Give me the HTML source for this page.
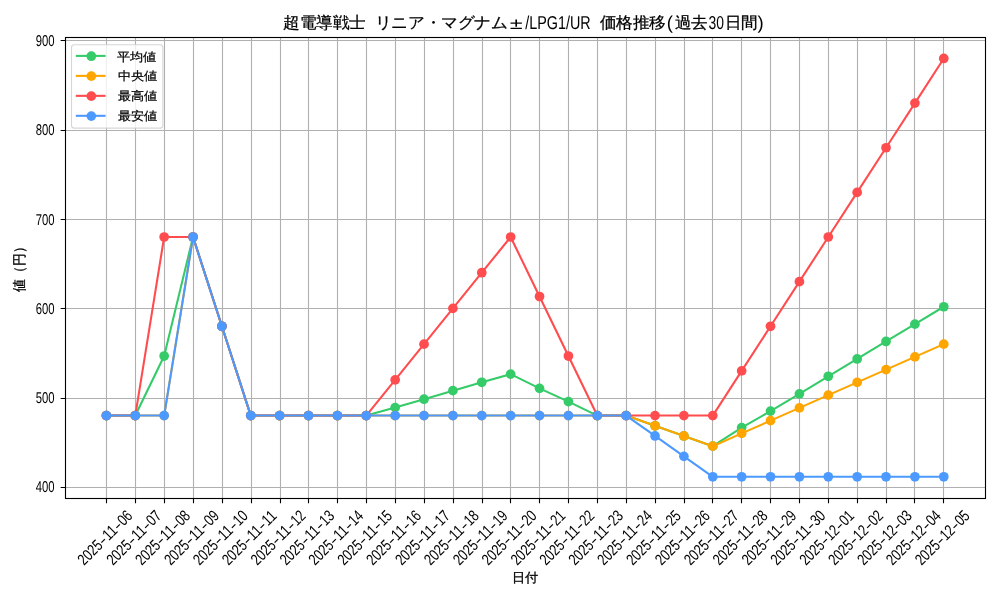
<!DOCTYPE html>
<html><head><meta charset="utf-8"><title>超電導戦士 リニア・マグナム±/LPG1/UR 価格推移</title>
<style>html,body{margin:0;padding:0;background:#fff;width:1000px;height:600px;overflow:hidden}
svg{position:absolute;left:0;top:0;will-change:transform}
text{font-family:"Liberation Sans", sans-serif;fill:#000;text-rendering:geometricPrecision} .b{stroke:#000;stroke-width:0.3px;text-rendering:auto}</style>
</head><body>
<svg width="1000" height="600" viewBox="0 0 1000 600"><rect width="1000" height="600" fill="#fff"/><path d="M106.5 37.5V498.5M135.5 37.5V498.5M164.5 37.5V498.5M193.5 37.5V498.5M222.5 37.5V498.5M251.5 37.5V498.5M280.5 37.5V498.5M308.5 37.5V498.5M337.5 37.5V498.5M366.5 37.5V498.5M395.5 37.5V498.5M424.5 37.5V498.5M453.5 37.5V498.5M482.5 37.5V498.5M510.5 37.5V498.5M539.5 37.5V498.5M568.5 37.5V498.5M597.5 37.5V498.5M626.5 37.5V498.5M655.5 37.5V498.5M684.5 37.5V498.5M712.5 37.5V498.5M741.5 37.5V498.5M770.5 37.5V498.5M799.5 37.5V498.5M828.5 37.5V498.5M857.5 37.5V498.5M886.5 37.5V498.5M914.5 37.5V498.5M943.5 37.5V498.5M65.5 487.5H985.5M65.5 398.5H985.5M65.5 308.5H985.5M65.5 219.5H985.5M65.5 130.5H985.5M65.5 40.5H985.5" stroke="#b0b0b0" stroke-width="1.11" fill="none"/><g fill="#35cb69"><polyline points="106.41,415.57 135.28,415.57 164.16,356.04 193.03,237.01 221.91,326.29 250.78,415.57 279.66,415.57 308.53,415.57 337.41,415.57 366.28,415.57 395.16,407.62 424.03,399.23 452.91,390.66 481.78,382.27 510.66,374.14 539.53,388.34 568.41,401.64 597.28,415.57 626.16,415.57 655.03,425.77 683.91,435.97 712.78,446.18 741.66,427.62 770.53,411.10 799.41,393.87 828.28,376.28 857.16,358.96 886.03,341.47 914.91,324.15 943.78,306.74" fill="none" stroke="#35cb69" stroke-width="2.08" stroke-linejoin="round"/><circle cx="106.41" cy="415.57" r="4.86"/><circle cx="135.28" cy="415.57" r="4.86"/><circle cx="164.16" cy="356.04" r="4.86"/><circle cx="193.03" cy="237.01" r="4.86"/><circle cx="221.91" cy="326.29" r="4.86"/><circle cx="250.78" cy="415.57" r="4.86"/><circle cx="279.66" cy="415.57" r="4.86"/><circle cx="308.53" cy="415.57" r="4.86"/><circle cx="337.41" cy="415.57" r="4.86"/><circle cx="366.28" cy="415.57" r="4.86"/><circle cx="395.16" cy="407.62" r="4.86"/><circle cx="424.03" cy="399.23" r="4.86"/><circle cx="452.91" cy="390.66" r="4.86"/><circle cx="481.78" cy="382.27" r="4.86"/><circle cx="510.66" cy="374.14" r="4.86"/><circle cx="539.53" cy="388.34" r="4.86"/><circle cx="568.41" cy="401.64" r="4.86"/><circle cx="597.28" cy="415.57" r="4.86"/><circle cx="626.16" cy="415.57" r="4.86"/><circle cx="655.03" cy="425.77" r="4.86"/><circle cx="683.91" cy="435.97" r="4.86"/><circle cx="712.78" cy="446.18" r="4.86"/><circle cx="741.66" cy="427.62" r="4.86"/><circle cx="770.53" cy="411.10" r="4.86"/><circle cx="799.41" cy="393.87" r="4.86"/><circle cx="828.28" cy="376.28" r="4.86"/><circle cx="857.16" cy="358.96" r="4.86"/><circle cx="886.03" cy="341.47" r="4.86"/><circle cx="914.91" cy="324.15" r="4.86"/><circle cx="943.78" cy="306.74" r="4.86"/></g><g fill="#ffa500"><polyline points="106.41,415.57 135.28,415.57 164.16,415.57 193.03,237.01 221.91,326.29 250.78,415.57 279.66,415.57 308.53,415.57 337.41,415.57 366.28,415.57 395.16,415.57 424.03,415.57 452.91,415.57 481.78,415.57 510.66,415.57 539.53,415.57 568.41,415.57 597.28,415.57 626.16,415.57 655.03,425.77 683.91,435.97 712.78,446.18 741.66,433.42 770.53,420.67 799.41,407.92 828.28,395.16 857.16,382.41 886.03,369.66 914.91,356.90 943.78,344.15" fill="none" stroke="#ffa500" stroke-width="2.08" stroke-linejoin="round"/><circle cx="106.41" cy="415.57" r="4.86"/><circle cx="135.28" cy="415.57" r="4.86"/><circle cx="164.16" cy="415.57" r="4.86"/><circle cx="193.03" cy="237.01" r="4.86"/><circle cx="221.91" cy="326.29" r="4.86"/><circle cx="250.78" cy="415.57" r="4.86"/><circle cx="279.66" cy="415.57" r="4.86"/><circle cx="308.53" cy="415.57" r="4.86"/><circle cx="337.41" cy="415.57" r="4.86"/><circle cx="366.28" cy="415.57" r="4.86"/><circle cx="395.16" cy="415.57" r="4.86"/><circle cx="424.03" cy="415.57" r="4.86"/><circle cx="452.91" cy="415.57" r="4.86"/><circle cx="481.78" cy="415.57" r="4.86"/><circle cx="510.66" cy="415.57" r="4.86"/><circle cx="539.53" cy="415.57" r="4.86"/><circle cx="568.41" cy="415.57" r="4.86"/><circle cx="597.28" cy="415.57" r="4.86"/><circle cx="626.16" cy="415.57" r="4.86"/><circle cx="655.03" cy="425.77" r="4.86"/><circle cx="683.91" cy="435.97" r="4.86"/><circle cx="712.78" cy="446.18" r="4.86"/><circle cx="741.66" cy="433.42" r="4.86"/><circle cx="770.53" cy="420.67" r="4.86"/><circle cx="799.41" cy="407.92" r="4.86"/><circle cx="828.28" cy="395.16" r="4.86"/><circle cx="857.16" cy="382.41" r="4.86"/><circle cx="886.03" cy="369.66" r="4.86"/><circle cx="914.91" cy="356.90" r="4.86"/><circle cx="943.78" cy="344.15" r="4.86"/></g><g fill="#ff4c4e"><polyline points="106.41,415.57 135.28,415.57 164.16,237.01 193.03,237.01 221.91,326.29 250.78,415.57 279.66,415.57 308.53,415.57 337.41,415.57 366.28,415.57 395.16,379.85 424.03,344.14 452.91,308.43 481.78,272.72 510.66,237.01 539.53,296.53 568.41,356.04 597.28,415.57 626.16,415.57 655.03,415.57 683.91,415.57 712.78,415.57 741.66,370.93 770.53,326.29 799.41,281.65 828.28,237.01 857.16,192.38 886.03,147.74 914.91,103.10 943.78,58.46" fill="none" stroke="#ff4c4e" stroke-width="2.08" stroke-linejoin="round"/><circle cx="106.41" cy="415.57" r="4.86"/><circle cx="135.28" cy="415.57" r="4.86"/><circle cx="164.16" cy="237.01" r="4.86"/><circle cx="193.03" cy="237.01" r="4.86"/><circle cx="221.91" cy="326.29" r="4.86"/><circle cx="250.78" cy="415.57" r="4.86"/><circle cx="279.66" cy="415.57" r="4.86"/><circle cx="308.53" cy="415.57" r="4.86"/><circle cx="337.41" cy="415.57" r="4.86"/><circle cx="366.28" cy="415.57" r="4.86"/><circle cx="395.16" cy="379.85" r="4.86"/><circle cx="424.03" cy="344.14" r="4.86"/><circle cx="452.91" cy="308.43" r="4.86"/><circle cx="481.78" cy="272.72" r="4.86"/><circle cx="510.66" cy="237.01" r="4.86"/><circle cx="539.53" cy="296.53" r="4.86"/><circle cx="568.41" cy="356.04" r="4.86"/><circle cx="597.28" cy="415.57" r="4.86"/><circle cx="626.16" cy="415.57" r="4.86"/><circle cx="655.03" cy="415.57" r="4.86"/><circle cx="683.91" cy="415.57" r="4.86"/><circle cx="712.78" cy="415.57" r="4.86"/><circle cx="741.66" cy="370.93" r="4.86"/><circle cx="770.53" cy="326.29" r="4.86"/><circle cx="799.41" cy="281.65" r="4.86"/><circle cx="828.28" cy="237.01" r="4.86"/><circle cx="857.16" cy="192.38" r="4.86"/><circle cx="886.03" cy="147.74" r="4.86"/><circle cx="914.91" cy="103.10" r="4.86"/><circle cx="943.78" cy="58.46" r="4.86"/></g><g fill="#4c9aff"><polyline points="106.41,415.57 135.28,415.57 164.16,415.57 193.03,237.01 221.91,326.29 250.78,415.57 279.66,415.57 308.53,415.57 337.41,415.57 366.28,415.57 395.16,415.57 424.03,415.57 452.91,415.57 481.78,415.57 510.66,415.57 539.53,415.57 568.41,415.57 597.28,415.57 626.16,415.57 655.03,435.97 683.91,456.37 712.78,476.78 741.66,476.78 770.53,476.78 799.41,476.78 828.28,476.78 857.16,476.78 886.03,476.78 914.91,476.78 943.78,476.78" fill="none" stroke="#4c9aff" stroke-width="2.08" stroke-linejoin="round"/><circle cx="106.41" cy="415.57" r="4.86"/><circle cx="135.28" cy="415.57" r="4.86"/><circle cx="164.16" cy="415.57" r="4.86"/><circle cx="193.03" cy="237.01" r="4.86"/><circle cx="221.91" cy="326.29" r="4.86"/><circle cx="250.78" cy="415.57" r="4.86"/><circle cx="279.66" cy="415.57" r="4.86"/><circle cx="308.53" cy="415.57" r="4.86"/><circle cx="337.41" cy="415.57" r="4.86"/><circle cx="366.28" cy="415.57" r="4.86"/><circle cx="395.16" cy="415.57" r="4.86"/><circle cx="424.03" cy="415.57" r="4.86"/><circle cx="452.91" cy="415.57" r="4.86"/><circle cx="481.78" cy="415.57" r="4.86"/><circle cx="510.66" cy="415.57" r="4.86"/><circle cx="539.53" cy="415.57" r="4.86"/><circle cx="568.41" cy="415.57" r="4.86"/><circle cx="597.28" cy="415.57" r="4.86"/><circle cx="626.16" cy="415.57" r="4.86"/><circle cx="655.03" cy="435.97" r="4.86"/><circle cx="683.91" cy="456.37" r="4.86"/><circle cx="712.78" cy="476.78" r="4.86"/><circle cx="741.66" cy="476.78" r="4.86"/><circle cx="770.53" cy="476.78" r="4.86"/><circle cx="799.41" cy="476.78" r="4.86"/><circle cx="828.28" cy="476.78" r="4.86"/><circle cx="857.16" cy="476.78" r="4.86"/><circle cx="886.03" cy="476.78" r="4.86"/><circle cx="914.91" cy="476.78" r="4.86"/><circle cx="943.78" cy="476.78" r="4.86"/></g><rect x="65.5" y="37.5" width="920.0" height="461.0" fill="none" stroke="#000" stroke-width="1.11"/><path d="M106.5 498.5v4.86M135.5 498.5v4.86M164.5 498.5v4.86M193.5 498.5v4.86M222.5 498.5v4.86M251.5 498.5v4.86M280.5 498.5v4.86M308.5 498.5v4.86M337.5 498.5v4.86M366.5 498.5v4.86M395.5 498.5v4.86M424.5 498.5v4.86M453.5 498.5v4.86M482.5 498.5v4.86M510.5 498.5v4.86M539.5 498.5v4.86M568.5 498.5v4.86M597.5 498.5v4.86M626.5 498.5v4.86M655.5 498.5v4.86M684.5 498.5v4.86M712.5 498.5v4.86M741.5 498.5v4.86M770.5 498.5v4.86M799.5 498.5v4.86M828.5 498.5v4.86M857.5 498.5v4.86M886.5 498.5v4.86M914.5 498.5v4.86M943.5 498.5v4.86M65.5 487.5h-4.86M65.5 398.5h-4.86M65.5 308.5h-4.86M65.5 219.5h-4.86M65.5 130.5h-4.86M65.5 40.5h-4.86" stroke="#000" stroke-width="1.11" fill="none"/><g class="t"><text x="54.6" y="492.39" font-size="15.6" text-anchor="end" textLength="18.8" lengthAdjust="spacingAndGlyphs">400</text><text x="54.6" y="403.11" font-size="15.6" text-anchor="end" textLength="18.8" lengthAdjust="spacingAndGlyphs">500</text><text x="54.6" y="313.83" font-size="15.6" text-anchor="end" textLength="18.8" lengthAdjust="spacingAndGlyphs">600</text><text x="54.6" y="224.56" font-size="15.6" text-anchor="end" textLength="18.8" lengthAdjust="spacingAndGlyphs">700</text><text x="54.6" y="135.28" font-size="15.6" text-anchor="end" textLength="18.8" lengthAdjust="spacingAndGlyphs">800</text><text x="54.6" y="46.01" font-size="15.6" text-anchor="end" textLength="18.8" lengthAdjust="spacingAndGlyphs">900</text><text transform="translate(104.81,537.4) rotate(-45)" y="5.6" font-size="16"><tspan x="-35.00" textLength="27.80" lengthAdjust="spacingAndGlyphs">2025</tspan><tspan x="-7.00" textLength="6.80" lengthAdjust="spacingAndGlyphs">-</tspan><tspan x="0.00" textLength="13.80" lengthAdjust="spacingAndGlyphs">11</tspan><tspan x="14.00" textLength="6.80" lengthAdjust="spacingAndGlyphs">-</tspan><tspan x="21.00" textLength="13.80" lengthAdjust="spacingAndGlyphs">06</tspan></text><text transform="translate(133.69,537.4) rotate(-45)" y="5.6" font-size="16"><tspan x="-35.00" textLength="27.80" lengthAdjust="spacingAndGlyphs">2025</tspan><tspan x="-7.00" textLength="6.80" lengthAdjust="spacingAndGlyphs">-</tspan><tspan x="0.00" textLength="13.80" lengthAdjust="spacingAndGlyphs">11</tspan><tspan x="14.00" textLength="6.80" lengthAdjust="spacingAndGlyphs">-</tspan><tspan x="21.00" textLength="13.80" lengthAdjust="spacingAndGlyphs">07</tspan></text><text transform="translate(162.56,537.4) rotate(-45)" y="5.6" font-size="16"><tspan x="-35.00" textLength="27.80" lengthAdjust="spacingAndGlyphs">2025</tspan><tspan x="-7.00" textLength="6.80" lengthAdjust="spacingAndGlyphs">-</tspan><tspan x="0.00" textLength="13.80" lengthAdjust="spacingAndGlyphs">11</tspan><tspan x="14.00" textLength="6.80" lengthAdjust="spacingAndGlyphs">-</tspan><tspan x="21.00" textLength="13.80" lengthAdjust="spacingAndGlyphs">08</tspan></text><text transform="translate(191.44,537.4) rotate(-45)" y="5.6" font-size="16"><tspan x="-35.00" textLength="27.80" lengthAdjust="spacingAndGlyphs">2025</tspan><tspan x="-7.00" textLength="6.80" lengthAdjust="spacingAndGlyphs">-</tspan><tspan x="0.00" textLength="13.80" lengthAdjust="spacingAndGlyphs">11</tspan><tspan x="14.00" textLength="6.80" lengthAdjust="spacingAndGlyphs">-</tspan><tspan x="21.00" textLength="13.80" lengthAdjust="spacingAndGlyphs">09</tspan></text><text transform="translate(220.31,537.4) rotate(-45)" y="5.6" font-size="16"><tspan x="-35.00" textLength="27.80" lengthAdjust="spacingAndGlyphs">2025</tspan><tspan x="-7.00" textLength="6.80" lengthAdjust="spacingAndGlyphs">-</tspan><tspan x="0.00" textLength="13.80" lengthAdjust="spacingAndGlyphs">11</tspan><tspan x="14.00" textLength="6.80" lengthAdjust="spacingAndGlyphs">-</tspan><tspan x="21.00" textLength="13.80" lengthAdjust="spacingAndGlyphs">10</tspan></text><text transform="translate(249.19,537.4) rotate(-45)" y="5.6" font-size="16"><tspan x="-35.00" textLength="27.80" lengthAdjust="spacingAndGlyphs">2025</tspan><tspan x="-7.00" textLength="6.80" lengthAdjust="spacingAndGlyphs">-</tspan><tspan x="0.00" textLength="13.80" lengthAdjust="spacingAndGlyphs">11</tspan><tspan x="14.00" textLength="6.80" lengthAdjust="spacingAndGlyphs">-</tspan><tspan x="21.00" textLength="13.80" lengthAdjust="spacingAndGlyphs">11</tspan></text><text transform="translate(278.06,537.4) rotate(-45)" y="5.6" font-size="16"><tspan x="-35.00" textLength="27.80" lengthAdjust="spacingAndGlyphs">2025</tspan><tspan x="-7.00" textLength="6.80" lengthAdjust="spacingAndGlyphs">-</tspan><tspan x="0.00" textLength="13.80" lengthAdjust="spacingAndGlyphs">11</tspan><tspan x="14.00" textLength="6.80" lengthAdjust="spacingAndGlyphs">-</tspan><tspan x="21.00" textLength="13.80" lengthAdjust="spacingAndGlyphs">12</tspan></text><text transform="translate(306.93,537.4) rotate(-45)" y="5.6" font-size="16"><tspan x="-35.00" textLength="27.80" lengthAdjust="spacingAndGlyphs">2025</tspan><tspan x="-7.00" textLength="6.80" lengthAdjust="spacingAndGlyphs">-</tspan><tspan x="0.00" textLength="13.80" lengthAdjust="spacingAndGlyphs">11</tspan><tspan x="14.00" textLength="6.80" lengthAdjust="spacingAndGlyphs">-</tspan><tspan x="21.00" textLength="13.80" lengthAdjust="spacingAndGlyphs">13</tspan></text><text transform="translate(335.81,537.4) rotate(-45)" y="5.6" font-size="16"><tspan x="-35.00" textLength="27.80" lengthAdjust="spacingAndGlyphs">2025</tspan><tspan x="-7.00" textLength="6.80" lengthAdjust="spacingAndGlyphs">-</tspan><tspan x="0.00" textLength="13.80" lengthAdjust="spacingAndGlyphs">11</tspan><tspan x="14.00" textLength="6.80" lengthAdjust="spacingAndGlyphs">-</tspan><tspan x="21.00" textLength="13.80" lengthAdjust="spacingAndGlyphs">14</tspan></text><text transform="translate(364.68,537.4) rotate(-45)" y="5.6" font-size="16"><tspan x="-35.00" textLength="27.80" lengthAdjust="spacingAndGlyphs">2025</tspan><tspan x="-7.00" textLength="6.80" lengthAdjust="spacingAndGlyphs">-</tspan><tspan x="0.00" textLength="13.80" lengthAdjust="spacingAndGlyphs">11</tspan><tspan x="14.00" textLength="6.80" lengthAdjust="spacingAndGlyphs">-</tspan><tspan x="21.00" textLength="13.80" lengthAdjust="spacingAndGlyphs">15</tspan></text><text transform="translate(393.56,537.4) rotate(-45)" y="5.6" font-size="16"><tspan x="-35.00" textLength="27.80" lengthAdjust="spacingAndGlyphs">2025</tspan><tspan x="-7.00" textLength="6.80" lengthAdjust="spacingAndGlyphs">-</tspan><tspan x="0.00" textLength="13.80" lengthAdjust="spacingAndGlyphs">11</tspan><tspan x="14.00" textLength="6.80" lengthAdjust="spacingAndGlyphs">-</tspan><tspan x="21.00" textLength="13.80" lengthAdjust="spacingAndGlyphs">16</tspan></text><text transform="translate(422.43,537.4) rotate(-45)" y="5.6" font-size="16"><tspan x="-35.00" textLength="27.80" lengthAdjust="spacingAndGlyphs">2025</tspan><tspan x="-7.00" textLength="6.80" lengthAdjust="spacingAndGlyphs">-</tspan><tspan x="0.00" textLength="13.80" lengthAdjust="spacingAndGlyphs">11</tspan><tspan x="14.00" textLength="6.80" lengthAdjust="spacingAndGlyphs">-</tspan><tspan x="21.00" textLength="13.80" lengthAdjust="spacingAndGlyphs">17</tspan></text><text transform="translate(451.31,537.4) rotate(-45)" y="5.6" font-size="16"><tspan x="-35.00" textLength="27.80" lengthAdjust="spacingAndGlyphs">2025</tspan><tspan x="-7.00" textLength="6.80" lengthAdjust="spacingAndGlyphs">-</tspan><tspan x="0.00" textLength="13.80" lengthAdjust="spacingAndGlyphs">11</tspan><tspan x="14.00" textLength="6.80" lengthAdjust="spacingAndGlyphs">-</tspan><tspan x="21.00" textLength="13.80" lengthAdjust="spacingAndGlyphs">18</tspan></text><text transform="translate(480.18,537.4) rotate(-45)" y="5.6" font-size="16"><tspan x="-35.00" textLength="27.80" lengthAdjust="spacingAndGlyphs">2025</tspan><tspan x="-7.00" textLength="6.80" lengthAdjust="spacingAndGlyphs">-</tspan><tspan x="0.00" textLength="13.80" lengthAdjust="spacingAndGlyphs">11</tspan><tspan x="14.00" textLength="6.80" lengthAdjust="spacingAndGlyphs">-</tspan><tspan x="21.00" textLength="13.80" lengthAdjust="spacingAndGlyphs">19</tspan></text><text transform="translate(509.06,537.4) rotate(-45)" y="5.6" font-size="16"><tspan x="-35.00" textLength="27.80" lengthAdjust="spacingAndGlyphs">2025</tspan><tspan x="-7.00" textLength="6.80" lengthAdjust="spacingAndGlyphs">-</tspan><tspan x="0.00" textLength="13.80" lengthAdjust="spacingAndGlyphs">11</tspan><tspan x="14.00" textLength="6.80" lengthAdjust="spacingAndGlyphs">-</tspan><tspan x="21.00" textLength="13.80" lengthAdjust="spacingAndGlyphs">20</tspan></text><text transform="translate(537.93,537.4) rotate(-45)" y="5.6" font-size="16"><tspan x="-35.00" textLength="27.80" lengthAdjust="spacingAndGlyphs">2025</tspan><tspan x="-7.00" textLength="6.80" lengthAdjust="spacingAndGlyphs">-</tspan><tspan x="0.00" textLength="13.80" lengthAdjust="spacingAndGlyphs">11</tspan><tspan x="14.00" textLength="6.80" lengthAdjust="spacingAndGlyphs">-</tspan><tspan x="21.00" textLength="13.80" lengthAdjust="spacingAndGlyphs">21</tspan></text><text transform="translate(566.81,537.4) rotate(-45)" y="5.6" font-size="16"><tspan x="-35.00" textLength="27.80" lengthAdjust="spacingAndGlyphs">2025</tspan><tspan x="-7.00" textLength="6.80" lengthAdjust="spacingAndGlyphs">-</tspan><tspan x="0.00" textLength="13.80" lengthAdjust="spacingAndGlyphs">11</tspan><tspan x="14.00" textLength="6.80" lengthAdjust="spacingAndGlyphs">-</tspan><tspan x="21.00" textLength="13.80" lengthAdjust="spacingAndGlyphs">22</tspan></text><text transform="translate(595.68,537.4) rotate(-45)" y="5.6" font-size="16"><tspan x="-35.00" textLength="27.80" lengthAdjust="spacingAndGlyphs">2025</tspan><tspan x="-7.00" textLength="6.80" lengthAdjust="spacingAndGlyphs">-</tspan><tspan x="0.00" textLength="13.80" lengthAdjust="spacingAndGlyphs">11</tspan><tspan x="14.00" textLength="6.80" lengthAdjust="spacingAndGlyphs">-</tspan><tspan x="21.00" textLength="13.80" lengthAdjust="spacingAndGlyphs">23</tspan></text><text transform="translate(624.56,537.4) rotate(-45)" y="5.6" font-size="16"><tspan x="-35.00" textLength="27.80" lengthAdjust="spacingAndGlyphs">2025</tspan><tspan x="-7.00" textLength="6.80" lengthAdjust="spacingAndGlyphs">-</tspan><tspan x="0.00" textLength="13.80" lengthAdjust="spacingAndGlyphs">11</tspan><tspan x="14.00" textLength="6.80" lengthAdjust="spacingAndGlyphs">-</tspan><tspan x="21.00" textLength="13.80" lengthAdjust="spacingAndGlyphs">24</tspan></text><text transform="translate(653.43,537.4) rotate(-45)" y="5.6" font-size="16"><tspan x="-35.00" textLength="27.80" lengthAdjust="spacingAndGlyphs">2025</tspan><tspan x="-7.00" textLength="6.80" lengthAdjust="spacingAndGlyphs">-</tspan><tspan x="0.00" textLength="13.80" lengthAdjust="spacingAndGlyphs">11</tspan><tspan x="14.00" textLength="6.80" lengthAdjust="spacingAndGlyphs">-</tspan><tspan x="21.00" textLength="13.80" lengthAdjust="spacingAndGlyphs">25</tspan></text><text transform="translate(682.31,537.4) rotate(-45)" y="5.6" font-size="16"><tspan x="-35.00" textLength="27.80" lengthAdjust="spacingAndGlyphs">2025</tspan><tspan x="-7.00" textLength="6.80" lengthAdjust="spacingAndGlyphs">-</tspan><tspan x="0.00" textLength="13.80" lengthAdjust="spacingAndGlyphs">11</tspan><tspan x="14.00" textLength="6.80" lengthAdjust="spacingAndGlyphs">-</tspan><tspan x="21.00" textLength="13.80" lengthAdjust="spacingAndGlyphs">26</tspan></text><text transform="translate(711.18,537.4) rotate(-45)" y="5.6" font-size="16"><tspan x="-35.00" textLength="27.80" lengthAdjust="spacingAndGlyphs">2025</tspan><tspan x="-7.00" textLength="6.80" lengthAdjust="spacingAndGlyphs">-</tspan><tspan x="0.00" textLength="13.80" lengthAdjust="spacingAndGlyphs">11</tspan><tspan x="14.00" textLength="6.80" lengthAdjust="spacingAndGlyphs">-</tspan><tspan x="21.00" textLength="13.80" lengthAdjust="spacingAndGlyphs">27</tspan></text><text transform="translate(740.06,537.4) rotate(-45)" y="5.6" font-size="16"><tspan x="-35.00" textLength="27.80" lengthAdjust="spacingAndGlyphs">2025</tspan><tspan x="-7.00" textLength="6.80" lengthAdjust="spacingAndGlyphs">-</tspan><tspan x="0.00" textLength="13.80" lengthAdjust="spacingAndGlyphs">11</tspan><tspan x="14.00" textLength="6.80" lengthAdjust="spacingAndGlyphs">-</tspan><tspan x="21.00" textLength="13.80" lengthAdjust="spacingAndGlyphs">28</tspan></text><text transform="translate(768.93,537.4) rotate(-45)" y="5.6" font-size="16"><tspan x="-35.00" textLength="27.80" lengthAdjust="spacingAndGlyphs">2025</tspan><tspan x="-7.00" textLength="6.80" lengthAdjust="spacingAndGlyphs">-</tspan><tspan x="0.00" textLength="13.80" lengthAdjust="spacingAndGlyphs">11</tspan><tspan x="14.00" textLength="6.80" lengthAdjust="spacingAndGlyphs">-</tspan><tspan x="21.00" textLength="13.80" lengthAdjust="spacingAndGlyphs">29</tspan></text><text transform="translate(797.81,537.4) rotate(-45)" y="5.6" font-size="16"><tspan x="-35.00" textLength="27.80" lengthAdjust="spacingAndGlyphs">2025</tspan><tspan x="-7.00" textLength="6.80" lengthAdjust="spacingAndGlyphs">-</tspan><tspan x="0.00" textLength="13.80" lengthAdjust="spacingAndGlyphs">11</tspan><tspan x="14.00" textLength="6.80" lengthAdjust="spacingAndGlyphs">-</tspan><tspan x="21.00" textLength="13.80" lengthAdjust="spacingAndGlyphs">30</tspan></text><text transform="translate(826.68,537.4) rotate(-45)" y="5.6" font-size="16"><tspan x="-35.00" textLength="27.80" lengthAdjust="spacingAndGlyphs">2025</tspan><tspan x="-7.00" textLength="6.80" lengthAdjust="spacingAndGlyphs">-</tspan><tspan x="0.00" textLength="13.80" lengthAdjust="spacingAndGlyphs">12</tspan><tspan x="14.00" textLength="6.80" lengthAdjust="spacingAndGlyphs">-</tspan><tspan x="21.00" textLength="13.80" lengthAdjust="spacingAndGlyphs">01</tspan></text><text transform="translate(855.56,537.4) rotate(-45)" y="5.6" font-size="16"><tspan x="-35.00" textLength="27.80" lengthAdjust="spacingAndGlyphs">2025</tspan><tspan x="-7.00" textLength="6.80" lengthAdjust="spacingAndGlyphs">-</tspan><tspan x="0.00" textLength="13.80" lengthAdjust="spacingAndGlyphs">12</tspan><tspan x="14.00" textLength="6.80" lengthAdjust="spacingAndGlyphs">-</tspan><tspan x="21.00" textLength="13.80" lengthAdjust="spacingAndGlyphs">02</tspan></text><text transform="translate(884.43,537.4) rotate(-45)" y="5.6" font-size="16"><tspan x="-35.00" textLength="27.80" lengthAdjust="spacingAndGlyphs">2025</tspan><tspan x="-7.00" textLength="6.80" lengthAdjust="spacingAndGlyphs">-</tspan><tspan x="0.00" textLength="13.80" lengthAdjust="spacingAndGlyphs">12</tspan><tspan x="14.00" textLength="6.80" lengthAdjust="spacingAndGlyphs">-</tspan><tspan x="21.00" textLength="13.80" lengthAdjust="spacingAndGlyphs">03</tspan></text><text transform="translate(913.31,537.4) rotate(-45)" y="5.6" font-size="16"><tspan x="-35.00" textLength="27.80" lengthAdjust="spacingAndGlyphs">2025</tspan><tspan x="-7.00" textLength="6.80" lengthAdjust="spacingAndGlyphs">-</tspan><tspan x="0.00" textLength="13.80" lengthAdjust="spacingAndGlyphs">12</tspan><tspan x="14.00" textLength="6.80" lengthAdjust="spacingAndGlyphs">-</tspan><tspan x="21.00" textLength="13.80" lengthAdjust="spacingAndGlyphs">04</tspan></text><text transform="translate(942.18,537.4) rotate(-45)" y="5.6" font-size="16"><tspan x="-35.00" textLength="27.80" lengthAdjust="spacingAndGlyphs">2025</tspan><tspan x="-7.00" textLength="6.80" lengthAdjust="spacingAndGlyphs">-</tspan><tspan x="0.00" textLength="13.80" lengthAdjust="spacingAndGlyphs">12</tspan><tspan x="14.00" textLength="6.80" lengthAdjust="spacingAndGlyphs">-</tspan><tspan x="21.00" textLength="13.80" lengthAdjust="spacingAndGlyphs">05</tspan></text><text class="b" x="512" y="582.4" font-size="12.5" textLength="26.3" lengthAdjust="spacingAndGlyphs">日付</text><text class="b" transform="translate(24.3,291.6) rotate(-90)" x="0" y="0" font-size="13.5" textLength="51.1" lengthAdjust="spacingAndGlyphs">値（円）</text><text class="b" style="stroke-width:0.26px" x="283.00" y="28.3" font-size="15.5" textLength="83.04" lengthAdjust="spacingAndGlyphs">超電導戦士</text><text class="b" style="stroke-width:0.26px" x="374.67" y="28.3" font-size="15.5" textLength="133.04" lengthAdjust="spacingAndGlyphs">リニア・マグナム</text><text x="509.80" y="28.6" font-size="16" textLength="12.87" lengthAdjust="spacingAndGlyphs">±</text><text x="525.27" y="28.7" font-size="18.6" textLength="65.47" lengthAdjust="spacingAndGlyphs">/LPG1/UR</text><text class="b" style="stroke-width:0.26px" x="599.67" y="28.3" font-size="15.5" textLength="66.37" lengthAdjust="spacingAndGlyphs">価格推移</text><text x="666.64" y="28.7" font-size="18.6">(</text><text class="b" style="stroke-width:0.26px" x="674.67" y="28.3" font-size="15.5" textLength="33.03" lengthAdjust="spacingAndGlyphs">過去</text><text x="708.61" y="28.7" font-size="18.6" textLength="15.47" lengthAdjust="spacingAndGlyphs">30</text><text class="b" style="stroke-width:0.26px" x="724.68" y="28.3" font-size="15.5" textLength="33.03" lengthAdjust="spacingAndGlyphs">日間</text><text x="757.41" y="28.7" font-size="18.6">)</text><rect x="71.5" y="44.7" width="91.4" height="83.4" rx="2.8" fill="#fff" fill-opacity="0.8" stroke="#cccccc" stroke-opacity="0.8" stroke-width="1.11"/><path d="M75.8 55.90H105.6" stroke="#35cb69" stroke-width="2.08"/><circle cx="91.3" cy="56.20" r="4.86" fill="#35cb69"/><text class="b" style="stroke-width:0.22px" x="117" y="60.50" font-size="12" textLength="39.5" lengthAdjust="spacingAndGlyphs">平均値</text><path d="M75.8 75.87H105.6" stroke="#ffa500" stroke-width="2.08"/><circle cx="91.3" cy="76.17" r="4.86" fill="#ffa500"/><text class="b" style="stroke-width:0.22px" x="117.8" y="80.47" font-size="12" textLength="39.5" lengthAdjust="spacingAndGlyphs">中央値</text><path d="M75.8 95.84H105.6" stroke="#ff4c4e" stroke-width="2.08"/><circle cx="91.3" cy="96.14" r="4.86" fill="#ff4c4e"/><text class="b" style="stroke-width:0.22px" x="117.8" y="100.44" font-size="12" textLength="39.5" lengthAdjust="spacingAndGlyphs">最高値</text><path d="M75.8 115.81H105.6" stroke="#4c9aff" stroke-width="2.08"/><circle cx="91.3" cy="116.11" r="4.86" fill="#4c9aff"/><text class="b" style="stroke-width:0.22px" x="117.8" y="120.41" font-size="12" textLength="39.5" lengthAdjust="spacingAndGlyphs">最安値</text></g></svg>
</body></html>
